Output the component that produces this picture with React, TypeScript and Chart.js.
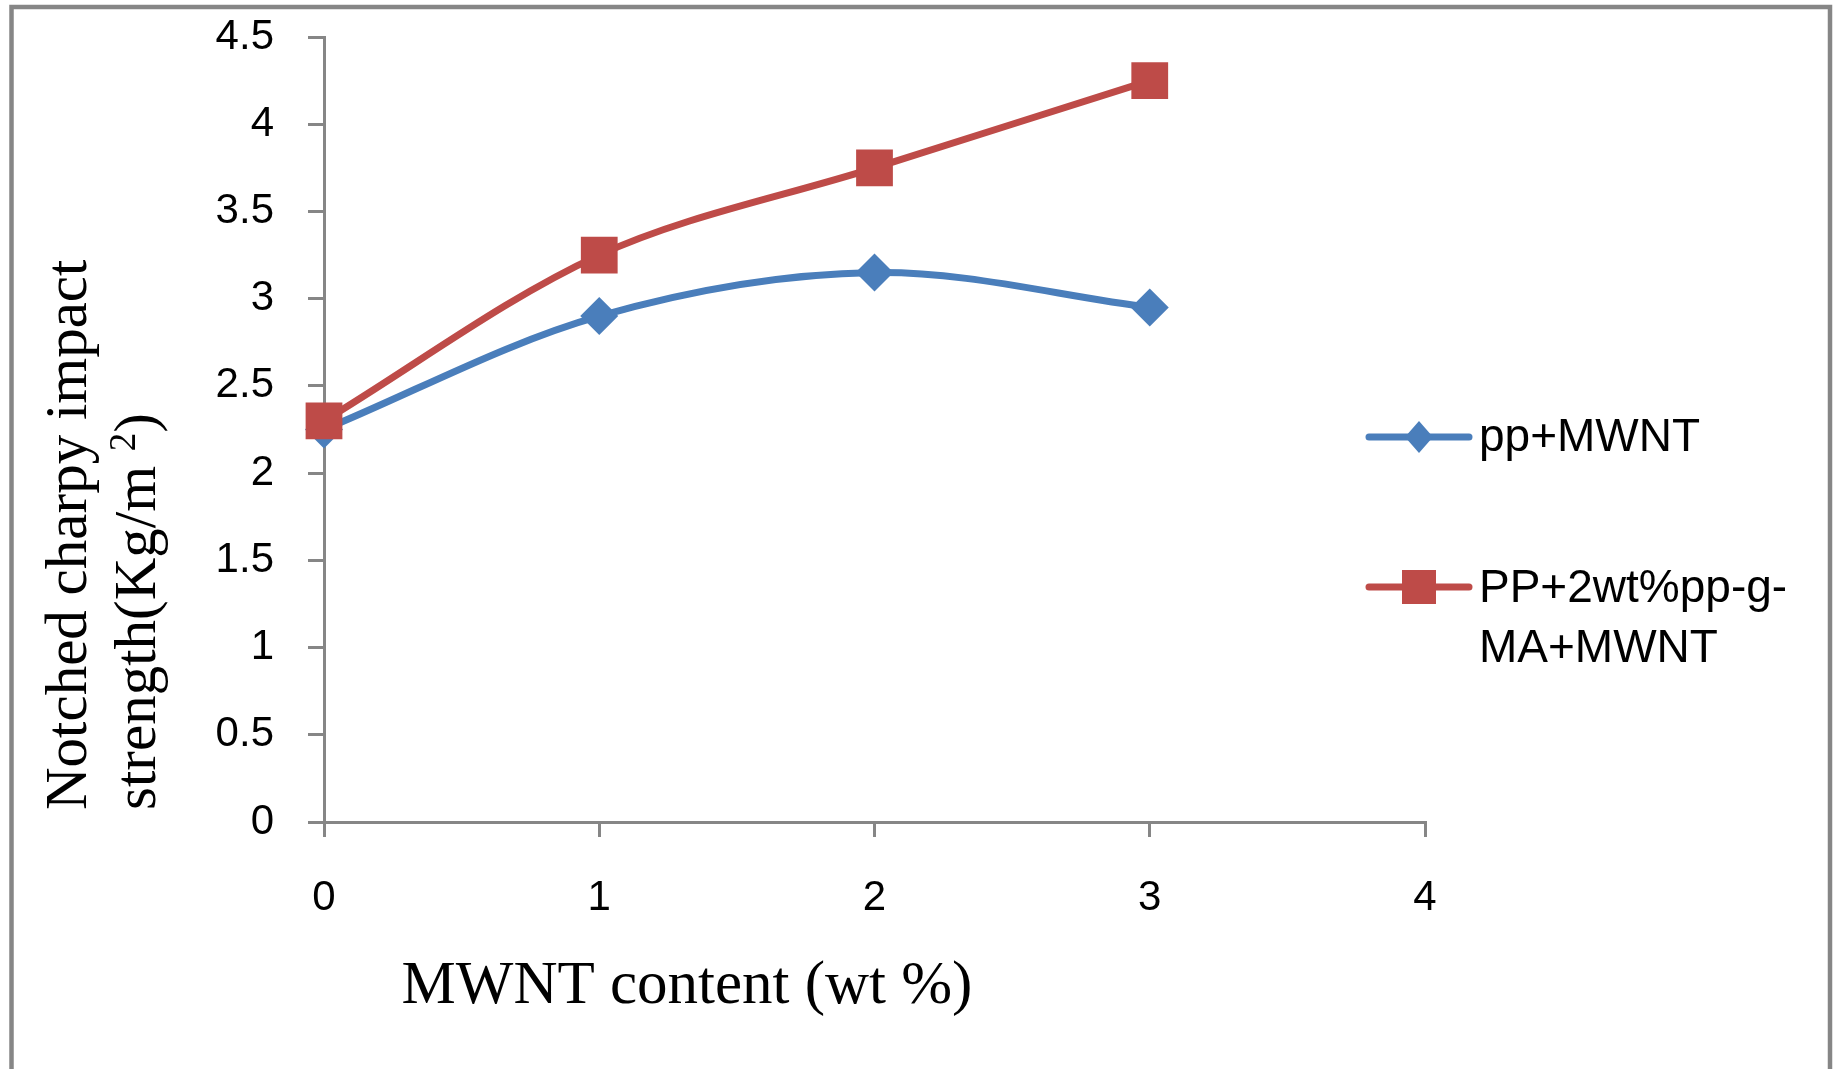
import React, { useEffect, useRef } from 'react';
import { Chart, registerables } from 'chart.js';

Chart.register(...registerables);

// ---- data ----
const xValues = [0, 1, 2, 3];
const ppMwnt = [2.25, 2.9, 3.15, 2.95];
const ppMaMwnt = [2.3, 3.25, 3.75, 4.25];
const seriesNames = ['pp+MWNT', 'PP+2wt%pp-g-MA+MWNT'];
const legendLines = [['pp+MWNT'], ['PP+2wt%pp-g-', 'MA+MWNT']];
const xAxisTitle = 'MWNT content (wt %)';
const yAxisTitleLine1 = 'Notched charpy impact';
const yAxisTitleLine2 = ['strength(Kg/m ', '2', ')'];
const xRange = [0, 4, 1];
const yRange = [0, 4.5, 0.5];

const BLUE = '#4A7EBB';
const RED = '#BE4B48';
const GRAY = '#868686';
const SANS = '"Liberation Sans", Arial, sans-serif';
const SERIF = '"Liberation Serif", "Times New Roman", serif';

const decorPlugin = {
  id: 'decor',
  afterDraw(chart: any) {
    const ctx = chart.ctx as CanvasRenderingContext2D;
    const H = chart.height;
    ctx.save();
    // outer frame (no bottom edge)
    ctx.strokeStyle = GRAY;
    ctx.lineWidth = 4.5;
    ctx.beginPath();
    ctx.moveTo(11.5, H + 10);
    ctx.lineTo(11.5, 7);
    ctx.lineTo(1830, 7);
    ctx.lineTo(1830, H + 10);
    ctx.stroke();

    // x axis title
    ctx.fillStyle = '#000';
    ctx.font = `61px ${SERIF}`;
    ctx.textAlign = 'center';
    ctx.textBaseline = 'alphabetic';
    ctx.fillText(xAxisTitle, 687, 1003);

    // y axis title (rotated, two lines)
    ctx.textAlign = 'left';
    ctx.save();
    ctx.translate(86, 810);
    ctx.rotate(-Math.PI / 2);
    ctx.font = `59px ${SERIF}`;
    ctx.fillText(yAxisTitleLine1, 0, 0);
    ctx.restore();

    ctx.save();
    ctx.translate(155, 810);
    ctx.rotate(-Math.PI / 2);
    ctx.font = `59px ${SERIF}`;
    let px = 0;
    ctx.fillText(yAxisTitleLine2[0], px, 0);
    px += ctx.measureText(yAxisTitleLine2[0]).width;
    ctx.font = `37px ${SERIF}`;
    ctx.fillText(yAxisTitleLine2[1], px, -20);
    px += ctx.measureText(yAxisTitleLine2[1]).width;
    ctx.font = `59px ${SERIF}`;
    ctx.fillText(yAxisTitleLine2[2], px, 0);
    ctx.restore();

    // legend
    const rows = [
      { y: 437, textY: [451] },
      { y: 587, textY: [602, 662] },
    ];
    const datasets = chart.data.datasets;
    datasets.forEach((ds: any, i: number) => {
      const r = rows[i];
      ctx.strokeStyle = ds.borderColor;
      ctx.lineWidth = 7;
      ctx.lineCap = 'round';
      ctx.beginPath();
      ctx.moveTo(1369, r.y);
      ctx.lineTo(1469, r.y);
      ctx.stroke();
      ctx.fillStyle = ds.borderColor;
      const cx = 1419;
      if (ds.pointStyle === 'rectRot') {
        ctx.beginPath();
        ctx.moveTo(cx, r.y - 16);
        ctx.lineTo(cx + 14, r.y);
        ctx.lineTo(cx, r.y + 16);
        ctx.lineTo(cx - 14, r.y);
        ctx.closePath();
        ctx.fill();
      } else {
        ctx.fillRect(cx - 17, r.y - 17, 34, 34);
      }
      ctx.fillStyle = '#000';
      ctx.font = `46px ${SANS}`;
      ctx.textAlign = 'left';
      legendLines[i].forEach((t, j) => ctx.fillText(t, 1479, r.textY[j]));
    });
    ctx.restore();
  },
};

export default function App() {
  const ref = useRef<HTMLCanvasElement | null>(null);
  useEffect(() => {
    if (!ref.current) return;
    const chart = new Chart(ref.current, {
      type: 'line',
      data: {
        datasets: [
          {
            label: seriesNames[0],
            data: xValues.map((x, i) => ({ x, y: ppMwnt[i] })),
            borderColor: BLUE,
            backgroundColor: BLUE,
            borderWidth: 7,
            tension: 0.33,
            pointStyle: 'rectRot',
            pointRadius: 19,
            pointBorderWidth: 0,
            pointBackgroundColor: BLUE,
            borderCapStyle: 'round',
            borderJoinStyle: 'round',
            order: 2,
          },
          {
            label: seriesNames[1],
            data: xValues.map((x, i) => ({ x, y: ppMaMwnt[i] })),
            borderColor: RED,
            backgroundColor: RED,
            borderWidth: 7,
            tension: 0.33,
            pointStyle: 'rect',
            pointRadius: 26,
            pointBorderWidth: 0,
            pointBackgroundColor: RED,
            borderCapStyle: 'round',
            borderJoinStyle: 'round',
            order: 1,
          },
        ],
      },
      options: {
        responsive: false,
        animation: false,
        devicePixelRatio: 1,
        events: [],
        clip: false,
        layout: { padding: { top: 37, right: 410, bottom: 0, left: 0 } },
        plugins: { legend: { display: false }, tooltip: { enabled: false }, title: { display: false } },
        scales: {
          x: {
            type: 'linear',
            min: xRange[0],
            max: xRange[1],
            afterFit: (s: any) => { s.height = 247; s.paddingLeft = 0; s.paddingRight = 0; },
            ticks: { stepSize: xRange[2], color: '#000', padding: 36, font: { family: SANS, size: 42 }, callback: (v: any) => String(v) },
            grid: { display: true, drawOnChartArea: false, drawTicks: true, tickLength: 15, color: GRAY, lineWidth: 3 },
            border: { display: true, color: GRAY, width: 3 },
          },
          y: {
            type: 'linear',
            min: yRange[0],
            max: yRange[1],
            afterFit: (s: any) => { s.width = 324; s.paddingTop = 0; s.paddingBottom = 0; },
            ticks: { stepSize: yRange[2], color: '#000', padding: 34, font: { family: SANS, size: 42 }, callback: (v: any) => String(v) },
            grid: { display: true, drawOnChartArea: false, drawTicks: true, tickLength: 16, color: GRAY, lineWidth: 3 },
            border: { display: true, color: GRAY, width: 3 },
          },
        },
      } as any,
      plugins: [decorPlugin],
    });
    return () => chart.destroy();
  }, []);
  return (
    <div style={{ position: 'absolute', left: 0, top: 0, width: 1835, height: 1069, background: '#fff' }}>
      <canvas ref={ref} width={1835} height={1069} style={{ display: 'block' }} />
    </div>
  );
}
